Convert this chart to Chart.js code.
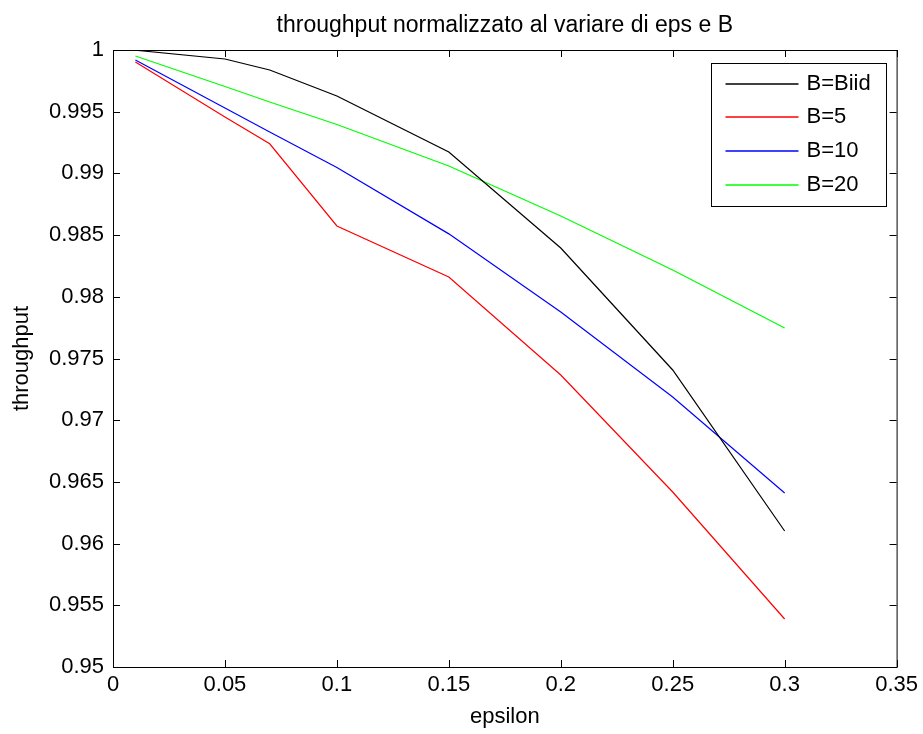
<!DOCTYPE html>
<html>
<head>
<meta charset="utf-8">
<script src="https://cdn.jsdelivr.net/npm/chart.js@4.4.1/dist/chart.umd.min.js"></script>
<style>
  html, body { margin: 0; padding: 0; background: #fff; }
</style>
</head>
<body>
<canvas id="throughputChart" width="923" height="734"></canvas>
<script>
// valori
const epsilon = [0.01, 0.05, 0.07, 0.1, 0.15, 0.2, 0.25, 0.3];
const bIid = [0.99998, 0.99927, 0.99838, 0.99627, 0.99173, 0.98395, 0.97407, 0.96102];
const b5   = [0.99903, 0.99457, 0.99240, 0.98574, 0.98160, 0.97366, 0.96418, 0.95389];
const b10  = [0.99919, 0.99530, 0.99335, 0.99048, 0.98510, 0.97877, 0.97188, 0.96410];
const b20  = [0.99951, 0.99704, 0.99579, 0.99396, 0.99060, 0.98655, 0.98217, 0.97747];

const seriesLabels = ['B=Biid', 'B=5', 'B=10', 'B=20'];
const seriesColors = ['#000000', '#ff0000', '#0000ff', '#00ff00'];

const xTicks = [0, 0.05, 0.1, 0.15, 0.2, 0.25, 0.3, 0.35];
const xTickLabels = ['0', '0.05', '0.1', '0.15', '0.2', '0.25', '0.3', '0.35'];
const yTicks = [0.95, 0.955, 0.96, 0.965, 0.97, 0.975, 0.98, 0.985, 0.99, 0.995, 1];
const yTickLabels = ['0.95', '0.955', '0.96', '0.965', '0.97', '0.975', '0.98', '0.985', '0.99', '0.995', '1'];

const titleText = 'throughput normalizzato al variare di eps e B';
const FONT = '"Liberation Sans", Arial, sans-serif';

const toPoints = arr => epsilon.map((e, i) => ({ x: e, y: arr[i] }));

// cornice, tacche interne, titolo e legenda in stile MATLAB
const matlabAxes = {
    id: 'matlabAxes',
    afterDatasetsDraw(chart) {
        const { ctx, chartArea: a, scales } = chart;
        ctx.save();
        ctx.strokeStyle = '#000';
        ctx.lineWidth = 1;

        ctx.beginPath();
        scales.x.ticks.forEach(t => {
            const px = Math.round(scales.x.getPixelForValue(t.value)) + 0.5;
            ctx.moveTo(px, a.bottom); ctx.lineTo(px, a.bottom - 7);
            ctx.moveTo(px, a.top); ctx.lineTo(px, a.top + 7);
        });
        scales.y.ticks.forEach(t => {
            const py = Math.round(scales.y.getPixelForValue(t.value)) + 0.5;
            ctx.moveTo(a.left, py); ctx.lineTo(a.left + 7, py);
            ctx.moveTo(a.right, py); ctx.lineTo(a.right - 7, py);
        });
        ctx.stroke();
        ctx.strokeRect(a.left + 0.5, a.top + 0.5, a.right - a.left, a.bottom - a.top);

        // titolo centrato sugli assi
        ctx.fillStyle = '#000';
        ctx.font = '23px ' + FONT;
        ctx.textAlign = 'center';
        ctx.textBaseline = 'alphabetic';
        ctx.fillText(titleText, (a.left + a.right) / 2, a.top - 18);

        // legenda
        const w = 175, h = 143;
        const lx = Math.round(a.right - 11 - w) + 0.5;
        const ly = Math.round(a.top + 13) + 0.5;
        ctx.fillStyle = '#fff';
        ctx.fillRect(lx, ly, w, h);
        ctx.strokeStyle = '#000';
        ctx.strokeRect(lx, ly, w, h);
        ctx.font = '22px ' + FONT;
        ctx.textAlign = 'left';
        ctx.textBaseline = 'middle';
        seriesLabels.forEach((label, i) => {
            const cy = Math.round(ly + 20 + i * 33.7);
            ctx.strokeStyle = seriesColors[i];
            ctx.lineWidth = 1.5;
            ctx.beginPath();
            ctx.moveTo(lx + 14, cy);
            ctx.lineTo(lx + 87, cy);
            ctx.stroke();
            ctx.fillStyle = '#000';
            ctx.fillText(label, lx + 95, cy);
        });
        ctx.restore();
    }
};

const ctx = document.getElementById('throughputChart').getContext('2d');

const chart = new Chart(ctx, {
    type: 'line',
    data: {
        datasets: [bIid, b5, b10, b20].map((arr, i) => ({
            label: seriesLabels[i],
            data: toPoints(arr),
            borderColor: seriesColors[i],
            backgroundColor: seriesColors[i],
            borderWidth: 1.2,
            pointRadius: 0,
            tension: 0,
            fill: false
        }))
    },
    options: {
        responsive: false,
        animation: false,
        devicePixelRatio: 1,
        layout: { padding: { top: 50, right: 25, bottom: 0, left: 0 } },
        plugins: {
            legend: { display: false },
            title: { display: false },
            tooltip: { enabled: false }
        },
        scales: {
            x: {
                type: 'linear',
                min: 0,
                max: 0.35,
                afterBuildTicks: scale => { scale.ticks = xTicks.map(v => ({ value: v })); },
                afterFit: scale => { scale.height = 67; },
                grid: { display: false, drawTicks: false },
                border: { display: false },
                ticks: {
                    color: '#000',
                    font: { family: FONT, size: 22 },
                    padding: 5,
                    maxRotation: 0,
                    autoSkip: false,
                    callback: (v, i) => xTickLabels[i]
                },
                title: {
                    display: true,
                    text: 'epsilon',
                    color: '#000',
                    font: { family: FONT, size: 22 },
                    padding: { top: 0, bottom: 4 }
                }
            },
            y: {
                min: 0.95,
                max: 1,
                afterBuildTicks: scale => { scale.ticks = yTicks.map(v => ({ value: v })); },
                afterFit: scale => { scale.width = 113; },
                grid: { display: false, drawTicks: false },
                border: { display: false },
                ticks: {
                    color: '#000',
                    font: { family: FONT, size: 22 },
                    padding: 9,
                    autoSkip: false,
                    callback: (v, i) => yTickLabels[i]
                },
                title: {
                    display: true,
                    text: 'throughput',
                    color: '#000',
                    font: { family: FONT, size: 22 },
                    padding: { top: 9, bottom: 0 }
                }
            }
        }
    },
    plugins: [matlabAxes]
});
</script>
</body>
</html>
